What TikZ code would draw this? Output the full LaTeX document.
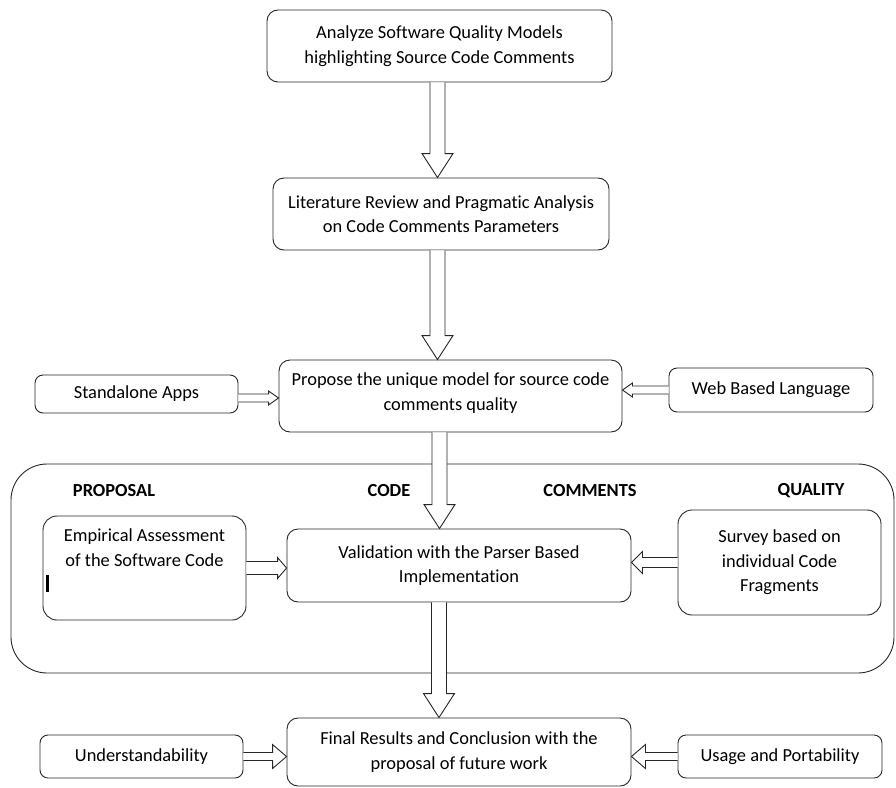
\documentclass[tikz,border=0pt]{standalone}
\usepackage{fontspec}
\setmainfont[Ligatures={NoCommon}]{Carlito}
\usetikzlibrary{calc}

\tikzset{
  box/.style={draw=black!85, line width=0.9pt, rounded corners=11pt, align=center,
    fill=white, inner sep=2pt, font=\fontsize{18.4}{24.5}\selectfont},
  head/.style={font=\fontsize{18.4}{24.5}\selectfont\bfseries},
  % hollow block arrows, vertical one goes downwards
  vfat/.style={draw=black!85, line width=0.9pt, fill=white, to path={
    let \p1=(\tikztostart), \p2=(\tikztotarget) in
    (\x1-7.5pt,\y1) -- (\x1-7.5pt,\y2+24pt) -- (\x1-15.5pt,\y2+24pt) -- (\x1,\y2)
    -- (\x1+15.5pt,\y2+24pt) -- (\x1+7.5pt,\y2+24pt) -- (\x1+7.5pt,\y1)}},
  hfat/.style args={#1/#2/#3}{draw=black!85, line width=0.9pt, fill=white, to path={
    let \p1=(\tikztostart), \p2=(\tikztotarget), \n1={sign(\x2-\x1)*#3} in
    (\x1,\y1+#1) -- ({\x2-(\n1)},\y1+#1) -- ({\x2-(\n1)},\y1+#2) -- (\x2,\y1)
    -- ({\x2-(\n1)},\y1-#2) -- ({\x2-(\n1)},\y1-#1) -- (\x1,\y1-#1)}},
}

\begin{document}
\begin{tikzpicture}[x=1pt, y=-1pt]

    % Frame of the picture
    \useasboundingbox (0,0) rectangle (896,787);

    % Container of the four columns
    \draw[draw=black!85, line width=0.9pt, rounded corners=36pt] (11,464) rectangle (894,673);
    \node[head] (proposal) at (114,491) {PROPOSAL};
    \node[head] (code) at (389,491) {CODE};
    \node[head] (comments) at (590,491) {COMMENTS};
    \node[head] (quality) at (811,491) {QUALITY};

    % Main steps
    \node[box, minimum width=345pt, minimum height=72pt] (analyze) at (439.5,46)
        {Analyze Software Quality Models\\highlighting Source Code Comments};
    \node[box, minimum width=336pt, minimum height=72pt] (review) at (441,214)
        {Literature Review and Pragmatic Analysis\\on Code Comments Parameters};
    \node[box, minimum width=343pt, minimum height=72pt, text depth=9pt] (propose) at (450.5,396)
        {Propose the unique model for source code\\comments quality};
    \node[box, minimum width=344pt, minimum height=73pt] (valid) at (459,565.5)
        {Validation with the Parser Based\\Implementation};
    \node[box, minimum width=344pt, minimum height=68pt] (final) at (459,752)
        {Final Results and Conclusion with the\\proposal of future work};

    % Side boxes
    \node[box, rounded corners=8pt, minimum width=203pt, minimum height=38pt] (apps) at (136.5,394)
        {Standalone Apps};
    \node[box, rounded corners=8pt, minimum width=204pt, minimum height=44pt] (web) at (771,390)
        {Web Based Language};
    \node[box, rounded corners=14pt, minimum width=203pt, minimum height=104pt] (emp) at (144.5,568) {};
    \node[font=\fontsize{18.4}{24.5}\selectfont, align=center, anchor=north] (emptext) at ([yshift=-10pt]emp.north)
        {Empirical Assessment\\of the Software Code};
    \node[box, rounded corners=14pt, minimum width=203pt, minimum height=105pt] (survey) at (779.5,562.5)
        {Survey based on\\individual Code\\Fragments};
    \node[box, rounded corners=8pt, minimum width=203pt, minimum height=43pt] (under) at (141.5,756.5)
        {Understandability};
    \node[box, rounded corners=8pt, minimum width=204pt, minimum height=43pt] (usage) at (780,756.5)
        {Usage and Portability};

    % Text cursor left in the box
    \fill[black] (45.5,575) rectangle (48.5,592);

    % Downward arrows
    \draw[vfat] ([xshift=-2pt]analyze.south) to (review.north);
    \draw[vfat] ([xshift=-3.5pt]review.south) to (propose.north);
    \draw[vfat] ([xshift=-11pt]propose.south) to (valid.north);
    \draw[vfat] ([xshift=-20pt]valid.south) to (final.north);

    % Sideways arrows (only the start height counts)
    \draw[hfat=4pt/7pt/10pt] ([yshift=-4pt]apps.east) to (propose.west);
    \draw[hfat=4pt/7pt/10pt] (web.west) to (propose.east);
    \draw[hfat=6.5pt/10.5pt/9pt] (emp.east) to (valid.west);
    \draw[hfat=5pt/11pt/11pt] (survey.west) to (valid.east);
    \draw[hfat=4pt/12pt/14pt] (under.east) to (final.west);
    \draw[hfat=4pt/12pt/14pt] (usage.west) to (final.east);

\end{tikzpicture}
\end{document}
